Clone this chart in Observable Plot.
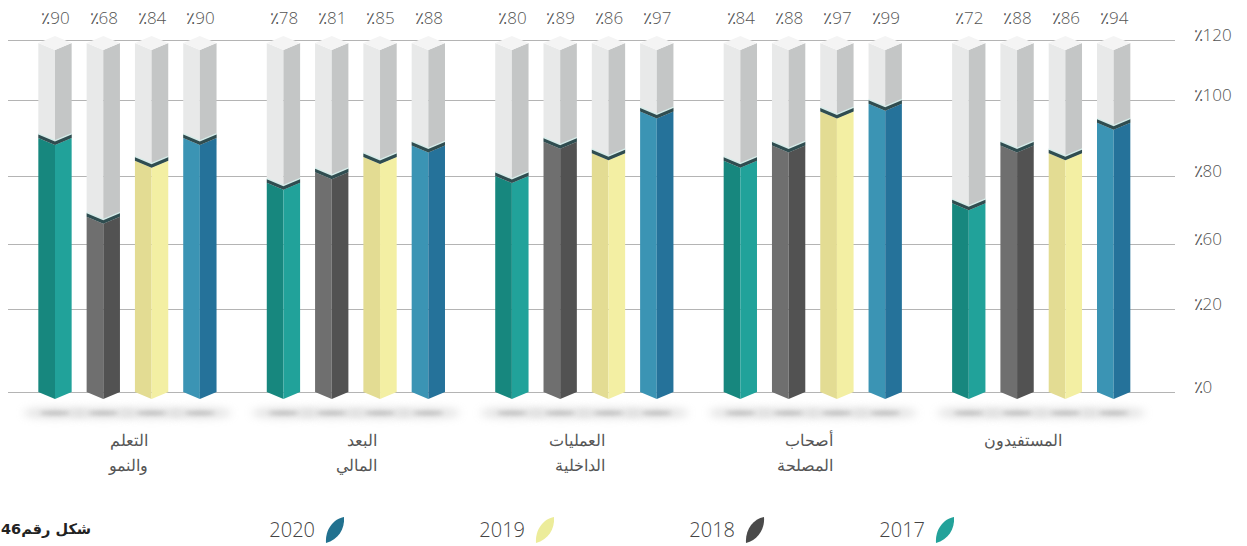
<!DOCTYPE html>
<html><head><meta charset="utf-8">
<script src="https://cdn.jsdelivr.net/npm/d3@7"></script>
<script src="https://cdn.jsdelivr.net/npm/@observablehq/plot@0.6"></script>
<style>
body{margin:0;background:#fff;width:1247px;height:546px;overflow:hidden;font-family:'Open Sans','DejaVu Sans',sans-serif;}
#legend{position:relative;width:1247px;height:46px;}
.item{position:absolute;top:16px;display:flex;align-items:center;gap:10px;font-size:20px;color:#444;font-weight:300;line-height:28px}
#caption{position:absolute;left:1px;top:21px;direction:rtl;font-weight:bold;font-size:14.5px;color:#222;white-space:nowrap;font-family:'DejaVu Sans',sans-serif;}
</style></head><body>
<div id="chart"></div>
<div id="legend"><div id="caption"></div></div>
<script>
// ---- data ----
const categories = ["التعلم\nوالنمو", "البعد\nالمالي", "العمليات\nالداخلية", "أصحاب\nالمصلحة", "المستفيدون"];
const years = ["2017", "2018", "2019", "2020"];
const v2017 = [90, 78, 80, 84, 72];
const v2018 = [68, 81, 89, 88, 88];
const v2019 = [84, 85, 86, 97, 86];
const v2020 = [90, 88, 97, 99, 94];
const yTicks = [0, 20, 60, 80, 100, 120];
const yTickLabels = ["٪0", "٪20", "٪60", "٪80", "٪100", "٪120"];
const captionText = "شكل رقم46";

// ---- styles / scale shape ----
const faceColors = {
  "2017": ["#17877e", "#21a29a"],
  "2018": ["#6f6f6f", "#525252"],
  "2019": ["#e3dc93", "#f3efa3"],
  "2020": ["#3b94b4", "#25729a"]
};
const legendColors = {"2017": "#23a29a", "2018": "#4a4a4a", "2019": "#ecec9a", "2020": "#22718f"};
const legendRight = {"2017": 292, "2018": 482, "2019": 692, "2020": 902};
const grayFaces = ["#e8e9e9", "#c4c6c6"];
const GROUP_STEP = 4.73;
// the reference axis is broken (uneven gaps between its labelled ticks): piecewise transform
const axisGaps = [0, 83, 148, 216, 292, 352];
const tf = d3.scaleLinear().domain(yTicks).range(axisGaps);

const series = [v2017, v2018, v2019, v2020];
const rows = categories.flatMap((c, gi) => years.map((yr, k) => ({category: c, year: yr, value: series[k][gi], u: gi * GROUP_STEP + k})));
const groupRows = categories.map((c, gi) => ({label: c, u: gi * GROUP_STEP + 2}));

const bars3d = (index, scales) => {
  const x = scales.x, Y = v => scales.y(tf(v));
  const unit = x(1) - x(0);
  const hw = unit * 0.345;
  const dep = 7;
  const y0 = Y(yTicks[0]);
  const yt = Y(yTicks[yTicks.length - 1]) + 3;
  const g = d3.create("svg:g");
  const defs = g.append("defs");
  defs.append("filter").attr("id", "shb").attr("x", "-50%").attr("y", "-200%").attr("width", "200%").attr("height", "500%")
    .append("feGaussianBlur").attr("stdDeviation", 4);
  defs.append("filter").attr("id", "shs").attr("x", "-50%").attr("y", "-200%").attr("width", "200%").attr("height", "500%")
    .append("feGaussianBlur").attr("stdDeviation", 2);
  const poly = (pts, fill) => g.append("polygon").attr("points", pts.map(p => p.join(",")).join(" ")).attr("fill", fill);
  const faces = (xl, xc, xr, ya, yb, cl, cr) => {
    poly([[xl, ya], [xc, ya + dep], [xc, yb + dep], [xl, yb]], cl);
    poly([[xc, ya + dep], [xr, ya], [xr, yb], [xc, yb + dep]], cr);
  };
  for (const r of rows) {
    const xc = x(r.u);
    g.append("ellipse").attr("cx", xc).attr("cy", y0 + 21).attr("rx", hw * 1.9).attr("ry", 5)
      .attr("fill", "#c4c4c4").attr("opacity", 0.55).attr("filter", "url(#shb)");
    g.append("ellipse").attr("cx", xc).attr("cy", y0 + 21).attr("rx", hw * 0.9).attr("ry", 1.8)
      .attr("fill", "#8a8a8a").attr("opacity", 0.5).attr("filter", "url(#shs)");
  }
  for (const r of rows) {
    const xc = x(r.u), xl = xc - hw, xr = xc + hw, yv = Y(r.value);
    const [cl, cr] = faceColors[r.year];
    faces(xl, xc, xr, yt, yv, grayFaces[0], grayFaces[1]);
    faces(xl, xc, xr, yv, y0, cl, cr);
    poly([[xl, yt], [xc, yt - dep], [xr, yt], [xc, yt + dep]], "#f4f4f4");
    poly([[xl, yv - 5], [xc, yv + dep - 5], [xr, yv - 5], [xr, yv - 3.5], [xc, yv + dep - 3.5], [xl, yv - 3.5]], "#d4ece9");
    poly([[xl, yv - 3.5], [xc, yv + dep - 3.5], [xr, yv - 3.5], [xr, yv], [xc, yv + dep], [xl, yv]], "#2f4d50");
  }
  return g.node();
};

const chart = Plot.plot({
  width: 1247, height: 500,
  marginLeft: 8, marginRight: 72, marginTop: 40, marginBottom: 108,
  style: {fontFamily: "'Open Sans','DejaVu Sans',sans-serif", fontSize: "17px", color: "#555", background: "#fff", fontWeight: 300},
  x: {domain: [-0.973, 23.19], axis: null},
  y: {transform: tf, axis: null},
  marks: [
    Plot.ruleY(yTicks, {y: d => d, stroke: "#b4b4b4", strokeWidth: 1}),
    Plot.text(yTicks, {y: d => d, frameAnchor: "right", dx: 18, dy: -5, textAnchor: "start",
      text: (d, i) => yTickLabels[i], fontSize: 17, fill: "#555"}),
    bars3d,
    Plot.text(rows, {x: "u", frameAnchor: "top", dy: -29, text: d => "٪" + d.value, fontSize: 17, fill: "#555"}),
    Plot.text(groupRows, {x: "u", frameAnchor: "bottom", dy: 36, dx: -4, lineAnchor: "top", text: "label",
      textAnchor: "end", fontSize: 16, lineHeight: 1.55, fill: "#555"})
  ]
});
document.getElementById("chart").appendChild(chart);

// ---- legend ----
document.getElementById("caption").textContent = captionText;
const legend = d3.select("#legend");
for (const yr of years) {
  const it = legend.append("div").attr("class", "item").style("right", legendRight[yr] + "px");
  it.append("span").text(yr);
  const s = it.append("svg").attr("width", 20).attr("height", 28);
  s.append("path").attr("d", "M1,27 C0,14 8,3 19,1 C20,13 13,24 1,27 Z").attr("fill", legendColors[yr]);
}
</script>
</body></html>
